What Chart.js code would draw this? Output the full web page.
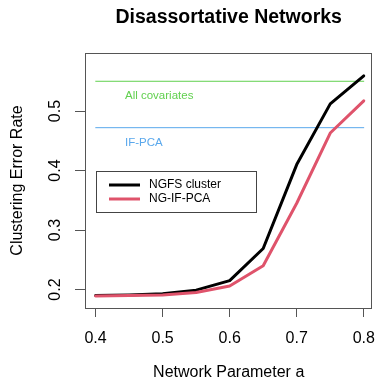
<!DOCTYPE html>
<html>
<head>
<meta charset="utf-8">
<script src="https://cdn.jsdelivr.net/npm/chart.js@4/dist/chart.umd.min.js"></script>
<style>
html,body{margin:0;padding:0;background:#fff;}
#wrap{width:387px;height:380px;position:relative;}
</style>
</head>
<body>
<div id="wrap"><canvas id="c" width="387" height="380"></canvas></div>
<script>
const xValues = [0.4, 0.45, 0.5, 0.55, 0.6, 0.65, 0.7, 0.75, 0.8];
const ngfsCluster = [0.190, 0.191, 0.193, 0.199, 0.215, 0.269, 0.410, 0.512, 0.559];
const ngIfPca = [0.189, 0.190, 0.191, 0.195, 0.206, 0.240, 0.345, 0.463, 0.517];
const allCovariates = 0.550;
const ifPca = 0.472;
const xTicks = [0.4, 0.5, 0.6, 0.7, 0.8];
const yTicks = [0.2, 0.3, 0.4, 0.5];
const seriesNames = ['NGFS cluster', 'NG-IF-PCA'];
const refNames = ['All covariates', 'IF-PCA'];

const FONT = '"Liberation Sans", Arial, Helvetica, sans-serif';
const RED = '#DF536B', GREEN = '#61D04F', BLUE = '#5AA8EC';

const pts = ys => xValues.map((x, i) => ({x: x, y: ys[i]}));
const hline = v => [{x: xValues[0], y: v}, {x: xValues[xValues.length - 1], y: v}];

const extras = {
  id: 'extras',
  afterDraw(chart) {
    const ctx = chart.ctx, a = chart.chartArea;
    const xs = chart.scales.x, ys = chart.scales.y;
    ctx.save();
    // box
    ctx.strokeStyle = '#555';
    ctx.lineWidth = 1;
    ctx.strokeRect(Math.round(a.left) + 0.5, Math.round(a.top) + 0.5, Math.round(a.right - a.left) - 1, Math.round(a.bottom - a.top));
    // y tick labels rotated
    ctx.fillStyle = '#000';
    ctx.font = '16px ' + FONT;
    ctx.textAlign = 'center';
    ctx.textBaseline = 'middle';
    ys.ticks.forEach(t => {
      const py = ys.getPixelForValue(t.value);
      ctx.save();
      ctx.translate(56, py);
      ctx.rotate(-Math.PI / 2);
      ctx.fillText(t.value.toFixed(1), 0, 0);
      ctx.restore();
    });
    // title
    ctx.font = 'bold 19.5px ' + FONT;
    ctx.fillText('Disassortative Networks', (a.left + a.right) / 2, 18);
    // axis titles
    ctx.font = '16px ' + FONT;
    ctx.fillText('Network Parameter a', (a.left + a.right) / 2, 373);
    ctx.save();
    ctx.translate(18, (a.top + a.bottom) / 2);
    ctx.rotate(-Math.PI / 2);
    ctx.fillText('Clustering Error Rate', 0, 0);
    ctx.restore();
    // reference labels
    ctx.font = '11.5px ' + FONT;
    ctx.textAlign = 'left';
    ctx.fillStyle = GREEN;
    ctx.fillText(refNames[0], 125, ys.getPixelForValue(allCovariates) + 15);
    ctx.fillStyle = BLUE;
    ctx.fillText(refNames[1], 125, ys.getPixelForValue(ifPca) + 15);
    // legend
    ctx.strokeStyle = '#444';
    ctx.lineWidth = 1;
    ctx.strokeRect(96.5, 171.5, 160, 41);
    const cols = ['#000', RED];
    ctx.font = '12px ' + FONT;
    ctx.fillStyle = '#000';
    seriesNames.forEach((n, i) => {
      const y = 185 + i * 14;
      ctx.strokeStyle = cols[i];
      ctx.lineWidth = 3;
      ctx.beginPath();
      ctx.moveTo(109, y);
      ctx.lineTo(140, y);
      ctx.stroke();
      ctx.fillText(n, 149, y);
    });
    ctx.restore();
  }
};

new Chart(document.getElementById('c'), {
  type: 'line',
  data: {
    datasets: [
      {label: seriesNames[0], data: pts(ngfsCluster), borderColor: '#000', borderWidth: 3, order: 2},
      {label: seriesNames[1], data: pts(ngIfPca), borderColor: RED, borderWidth: 3, order: 1},
      {label: refNames[0], data: hline(allCovariates), borderColor: GREEN, borderWidth: 1, order: 3},
      {label: refNames[1], data: hline(ifPca), borderColor: BLUE, borderWidth: 1, order: 3}
    ]
  },
  plugins: [extras],
  options: {
    responsive: false,
    animation: false,
    devicePixelRatio: 1,
    layout: {padding: {top: 53, right: 4, left: 0, bottom: 0}},
    elements: {point: {radius: 0}, line: {tension: 0, borderCapStyle: 'round', borderJoinStyle: 'round'}},
    plugins: {legend: {display: false}, tooltip: {enabled: false}, title: {display: false}},
    scales: {
      x: {
        type: 'linear',
        min: 0.3842, max: 0.8129,
        afterBuildTicks: s => { s.ticks = xTicks.map(v => ({value: v})); },
        afterFit: s => { s.height = 72; },
        grid: {drawOnChartArea: false, tickLength: 9, color: '#555', tickColor: '#555'},
        border: {display: false},
        ticks: {color: '#000', font: {family: FONT, size: 16}, padding: 12, maxRotation: 0,
                callback: v => v.toFixed(1)}
      },
      y: {
        type: 'linear',
        min: 0.169, max: 0.5975,
        afterBuildTicks: s => { s.ticks = yTicks.map(v => ({value: v})); },
        afterFit: s => { s.width = 85; },
        grid: {drawOnChartArea: false, tickLength: 10, color: '#555', tickColor: '#555'},
        border: {display: false},
        ticks: {display: false}
      }
    }
  }
});
</script>
</body>
</html>
